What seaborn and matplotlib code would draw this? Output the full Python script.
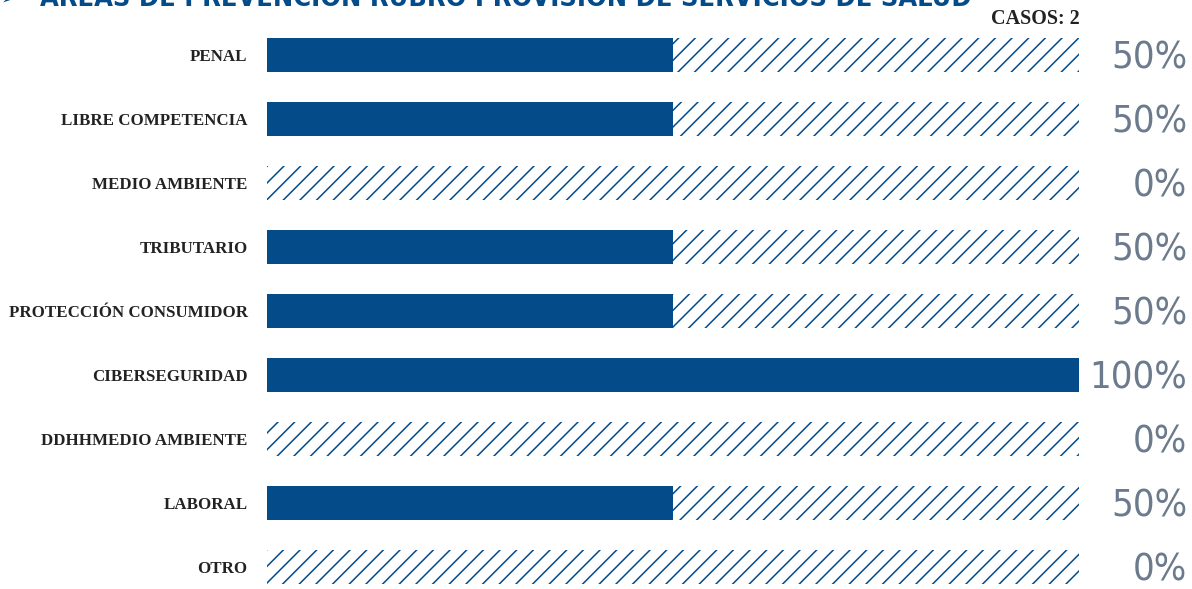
import matplotlib
matplotlib.use("Agg")
import matplotlib.pyplot as plt
from matplotlib import font_manager
import seaborn as sns
import pandas as pd

# data
categories = ["PENAL", "LIBRE COMPETENCIA", "MEDIO AMBIENTE", "TRIBUTARIO",
              "PROTECCIÓN CONSUMIDOR", "CIBERSEGURIDAD", "DDHHMEDIO AMBIENTE",
              "LABORAL", "OTRO"]
percent = [50, 50, 0, 50, 50, 100, 0, 50, 0]
total = [100] * len(categories)
title = "ÁREAS DE PREVENCIÓN RUBRO PROVISIÓN DE SERVICIOS DE SALUD"
cases_label = "CASOS: 2"

blue = "#034b89"
grey = "#6b7b8d"

df = pd.DataFrame({"area": categories, "pct": percent, "total": total})


def narrow_font(bold=False):
    # look for a condensed / narrow sans face among the installed fonts
    best = None
    for f in font_manager.fontManager.ttflist:
        n = f.name.lower()
        narrow = ("narrow" in n or "condensed" in n or
                  str(f.stretch) in ("condensed", "semi-condensed",
                                     "extra-condensed", "ultra-condensed"))
        if not narrow or "serif" in n or "mono" in n:
            continue
        if f.style != "normal":
            continue
        is_bold = f.weight in ("bold", 700)
        if is_bold == bold:
            return font_manager.FontProperties(fname=f.fname)
        if best is None:
            best = f
    if best is not None:
        return font_manager.FontProperties(fname=best.fname)
    return font_manager.FontProperties(family="DejaVu Sans",
                                       weight="bold" if bold else "normal")


def fit_width(txt, target_px, renderer):
    # scale the font size so the text is about target_px wide
    for _ in range(3):
        w = txt.get_window_extent(renderer).width
        if w > 0:
            txt.set_fontsize(txt.get_fontsize() * target_px / w)


sns.set_style("white")
plt.rcParams["hatch.linewidth"] = 1.1

fig = plt.figure(figsize=(11.92, 5.89), dpi=100)
renderer = fig.canvas.get_renderer()
ax = fig.add_axes([267 / 1192, 0, (1079 - 267) / 1192, 1 - 23 / 589])

# hatched background (full width)
sns.barplot(data=df, x="total", y="area", orient="h", color="white",
            edgecolor=blue, hatch="//", linewidth=0, width=0.52,
            errorbar=None, ax=ax)
# solid value bars
sns.barplot(data=df, x="pct", y="area", orient="h", color=blue,
            linewidth=0, width=0.52, saturation=1, errorbar=None, ax=ax)

ax.set_xlim(0, 100)
ax.set_ylim(8 + (589 - 567) / 64, -0.5)
ax.set_xlabel("")
ax.set_ylabel("")
ax.set_xticks([])
sns.despine(ax=ax, left=True, bottom=True)
ax.tick_params(axis="y", length=0, pad=14)
for lab in ax.get_yticklabels():
    lab.set_fontfamily("Liberation Serif")
    lab.set_fontweight("bold")
    lab.set_fontsize(12.2)
    lab.set_color("#222222")

# percentage labels on the right, one common size
pct_font = narrow_font(bold=False)
probe = ax.text(0, 0, "100%", fontproperties=pct_font)
probe.set_fontsize(30)
fit_width(probe, 98, renderer)
pct_size = probe.get_fontsize()
probe.remove()
for i, v in enumerate(percent):
    t = ax.text(1.1335, i + 0.06, f"{v}%", transform=ax.get_yaxis_transform(),
                ha="right", va="center", fontproperties=pct_font, color=grey)
    t.set_fontsize(pct_size)

fig.text(1080 / 1192, 1 - 19 / 589, cases_label, ha="right", va="center",
         fontsize=14.5, fontweight="bold", family="Liberation Serif",
         color="#222222")

# title, cut off at the top edge as in the reference
fig.text(0.0, 1 - 6 / 589, "➢", ha="left", va="baseline", fontsize=20,
         color=blue, family="DejaVu Sans")
tt = fig.text(40 / 1192, 1 - 6 / 589, title, ha="left", va="baseline",
              color=blue, fontproperties=narrow_font(bold=True))
tt.set_fontsize(24)
fit_width(tt, 930, renderer)

fig.savefig("out.png", dpi=100)
